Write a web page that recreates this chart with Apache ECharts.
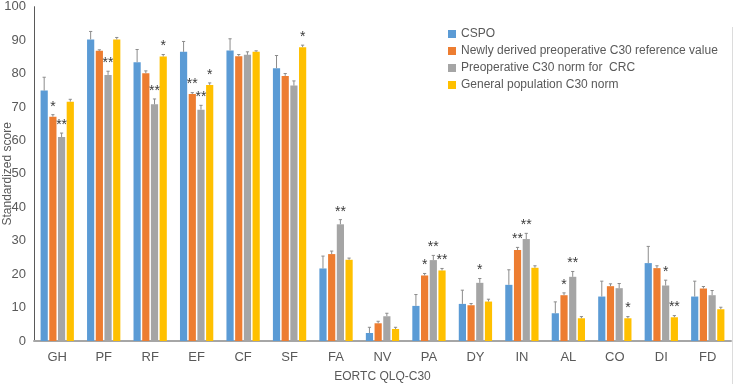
<!DOCTYPE html>
<html>
<head>
<meta charset="utf-8">
<script src="https://cdn.jsdelivr.net/npm/echarts@6/dist/echarts.min.js"></script>
<style>html,body{margin:0;padding:0;background:#fff}#c{width:734px;height:384px}</style>
</head>
<body>
<div id="c"></div>
<script>
var categories = ['GH','PF','RF','EF','CF','SF','FA','NV','PA','DY','IN','AL','CO','DI','FD'];
var seriesNames = ['CSPO','Newly derived preoperative C30 reference value','Preoperative C30 norm for  CRC','General population C30 norm'];
var cspo      = [74.9, 90.2, 83.4, 86.5, 86.9, 81.6, 21.7, 2.4, 10.5, 11.1, 16.8, 8.3, 13.3, 23.3, 13.3];
var newly     = [67.1, 86.8, 80.1, 73.9, 85.2, 79.3, 26.0, 5.3, 19.6, 10.7, 27.2, 13.7, 16.4, 21.8, 15.7];
var preopCRC  = [61.0, 79.6, 70.8, 69.2, 85.6, 76.4, 34.9, 7.4, 24.2, 17.4, 30.5, 19.2, 15.8, 16.6, 13.7];
var general   = [71.6, 90.2, 85.1, 76.6, 86.5, 87.9, 24.3, 3.6, 21.1, 11.8, 21.9, 6.8, 6.8, 7.1, 9.5];
var cspoErr     = [4.0, 2.4, 3.8, 3.1, 3.5, 3.8, 3.7, 1.7, 3.4, 4.1, 4.5, 3.4, 4.6, 5.0, 4.6];
var newlyErr    = [0.6, 0.3, 0.7, 0.4, 0.5, 0.7, 0.9, 0.6, 0.6, 0.5, 0.8, 0.7, 0.7, 0.7, 0.6];
var preopCRCErr = [1.2, 1.1, 1.6, 1.3, 0.9, 1.4, 1.4, 0.9, 1.4, 1.3, 1.7, 1.6, 1.4, 1.6, 1.4];
var generalErr  = [0.7, 0.6, 0.6, 0.6, 0.3, 0.6, 0.5, 0.5, 0.6, 0.7, 0.6, 0.5, 0.5, 0.5, 0.6];
var cspoSig     = ['','','','','','','','','','','','','','',''];
var newlySig    = ['*','','','**','','','','','*','','**','*','','',''];
var preopCRCSig = ['**','**','**','**','','','**','','**','*','**','**','','*',''];
var generalSig  = ['','','*','*','','*','','','**','','','','*','**',''];
var yTicks = [0,10,20,30,40,50,60,70,80,90,100];

var colors = ['#5B9BD5','#ED7D31','#A5A5A5','#FFC000'];
var values = [cspo, newly, preopCRC, general];
var errs = [cspoErr, newlyErr, preopCRCErr, generalErr];
var sigs = [cspoSig, newlySig, preopCRCSig, generalSig];
var BAR_W = 7.2, BAR_GAP = 1.5;
var FONT = '"Liberation Sans", Helvetica, Arial, sans-serif';

var series = [];
for (var s = 0; s < 4; s++) {
  series.push({
    name: seriesNames[s], type: 'bar', data: values[s],
    barWidth: BAR_W, barGap: (BAR_GAP / BAR_W * 100) + '%',
    itemStyle: {color: colors[s]}, z: 2
  });
}
for (var s2 = 0; s2 < 4; s2++) {
  (function (k) {
    var d = [];
    for (var i = 0; i < categories.length; i++) d.push([i, values[k][i], errs[k][i], sigs[k][i]]);
    series.push({
      type: 'custom', name: seriesNames[k] + ' err', data: d, z: 3, silent: true,
      encode: {x: 0, y: 1},
      renderItem: function (params, api) {
        var i = api.value(0), v = api.value(1), e = api.value(2);
        var sig = d[params.dataIndex][3];
        var c = api.coord([i, v]);
        var top = api.coord([i, v + e]);
        var total = 4 * BAR_W + 3 * BAR_GAP;
        var x = c[0] - total / 2 + k * (BAR_W + BAR_GAP) + BAR_W / 2;
        var style = {stroke: '#8c8c8c', lineWidth: 1};
        var children = [
          {type: 'line', shape: {x1: x, y1: c[1], x2: x, y2: top[1]}, style: style},
          {type: 'line', shape: {x1: x - 1.6, y1: top[1], x2: x + 1.6, y2: top[1]}, style: style}
        ];
        if (sig) {
          children.push({type: 'text', style: {text: sig, x: x, y: top[1] - 1, align: 'center', verticalAlign: 'bottom',
            fill: '#3a3a3a', font: '14px ' + FONT}});
        }
        return {type: 'group', children: children};
      }
    });
  })(s2);
}

var chart = echarts.init(document.getElementById('c'), null, {renderer: 'canvas'});
chart.setOption({
  animation: false,
  color: colors,
  textStyle: {fontFamily: FONT},
  grid: {left: 34, right: 3, top: 6.7, bottom: 43, containLabel: false, outerBoundsMode: 'none'},
  legend: {
    data: seriesNames, orient: 'vertical', left: 443, top: 23,
    itemWidth: 8, itemHeight: 8, itemGap: 5, icon: 'rect',
    textStyle: {color: '#595959', fontSize: 12, fontFamily: FONT}
  },
  graphic: [
    {type: 'line', shape: {x1: 732.5, y1: 27, x2: 732.5, y2: 384}, style: {stroke: '#dcdcdc', lineWidth: 1}, silent: true}
  ],
  xAxis: {
    type: 'category', data: categories,
    name: 'EORTC QLQ-C30', nameLocation: 'middle', nameGap: 30,
    nameTextStyle: {color: '#595959', fontSize: 12},
    axisLine: {lineStyle: {color: '#a6a6a6', width: 2}},
    axisTick: {show: false},
    axisLabel: {color: '#595959', fontSize: 13, margin: 10}
  },
  yAxis: {
    type: 'value', min: 0, max: 100, interval: 10,
    name: 'Standardized score', nameLocation: 'middle', nameGap: 20, nameMoveOverlap: false,
    nameTextStyle: {color: '#595959', fontSize: 12},
    axisLine: {show: true, lineStyle: {color: '#595959', width: 1}},
    axisTick: {show: false},
    splitLine: {show: false},
    axisLabel: {color: '#595959', fontSize: 13, margin: 8,
      formatter: function (v) { return yTicks.indexOf(v) >= 0 ? String(v) : ''; }}
  },
  series: series
});
</script>
</body>
</html>
